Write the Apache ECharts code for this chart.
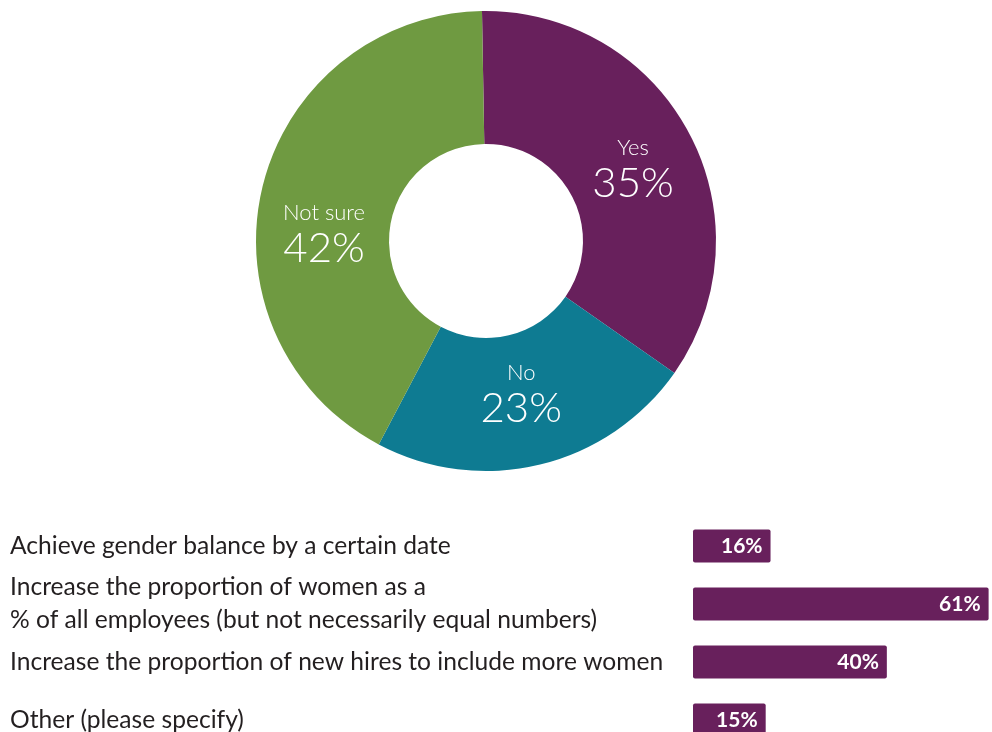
<!DOCTYPE html>
<html>
<head>
<meta charset="utf-8">
<script src="https://cdn.jsdelivr.net/npm/echarts@6/dist/echarts.min.js"></script>
<style>
  html, body { margin: 0; padding: 0; background: #fff; }
  #chart { width: 992px; height: 732px; }
</style>
</head>
<body>
<div id="chart"></div>
<script>
// donut: answer shares
const answerNames = ['Yes', 'No', 'Not sure'];
const answerValues = [35, 23, 42];
const answerColors = ['#68205c', '#0e7b92', '#6f9a41'];

// bars: goal types
const goalLabels = [
  'Achieve gender balance by a certain date',
  'Increase the proportion of women as a\n% of all employees (but not necessarily equal numbers)',
  'Increase the proportion of new hires to include more women',
  'Other (please specify)'
];
const goalValues = [16, 61, 40, 15];

const FONT = 'Lato, "Open Sans", sans-serif';

// nudge the donut labels a bit, like the original layout
const labelNudge = [[0, 7], [-4, -8], [0, 32]];

const dom = document.getElementById('chart');
const myChart = echarts.init(dom);

const option = {
  animation: false,
  backgroundColor: '#fff',
  grid: { left: 693, top: 546, right: 0, height: 174, containLabel: false, outerBoundsMode: 'none' },
  xAxis: {
    type: 'value',
    min: 0,
    max: 61.7,
    show: false
  },
  yAxis: {
    type: 'category',
    inverse: true,
    boundaryGap: false,
    data: goalLabels,
    axisLine: { show: false },
    axisTick: { show: false },
    splitLine: { show: false },
    axisLabel: {
      align: 'left',
      margin: 683,
      color: '#231f20',
      fontFamily: FONT,
      fontSize: 24.6,
      lineHeight: 33
    }
  },
  series: [
    {
      type: 'pie',
      center: [486, 241],
      radius: [97, 230],
      startAngle: 91,
      clockwise: true,
      silent: true,
      data: answerNames.map((n, i) => ({
        name: n,
        value: answerValues[i],
        itemStyle: { color: answerColors[i] },
        label: { offset: labelNudge[i] }
      })),
      label: {
        position: 'inside',
        formatter: p => '{n|' + p.name + '}\n{v|' + p.value + '%}',
        rich: {
          n: { color: '#fff', fontFamily: FONT, fontSize: 22, lineHeight: 28, fontWeight: 300 },
          v: { color: '#fff', fontFamily: FONT, fontSize: 42, lineHeight: 44, fontWeight: 300 }
        }
      },
      labelLine: { show: false }
    },
    {
      type: 'bar',
      data: goalValues,
      barWidth: 33,
      itemStyle: { color: '#68205c', borderRadius: 2 },
      label: {
        show: true,
        position: 'insideRight',
        distance: 8,
        formatter: '{c}%',
        color: '#fff',
        fontFamily: FONT,
        fontSize: 21,
        fontWeight: 'bold'
      }
    }
  ]
};

myChart.setOption(option, true);
</script>
</body>
</html>
